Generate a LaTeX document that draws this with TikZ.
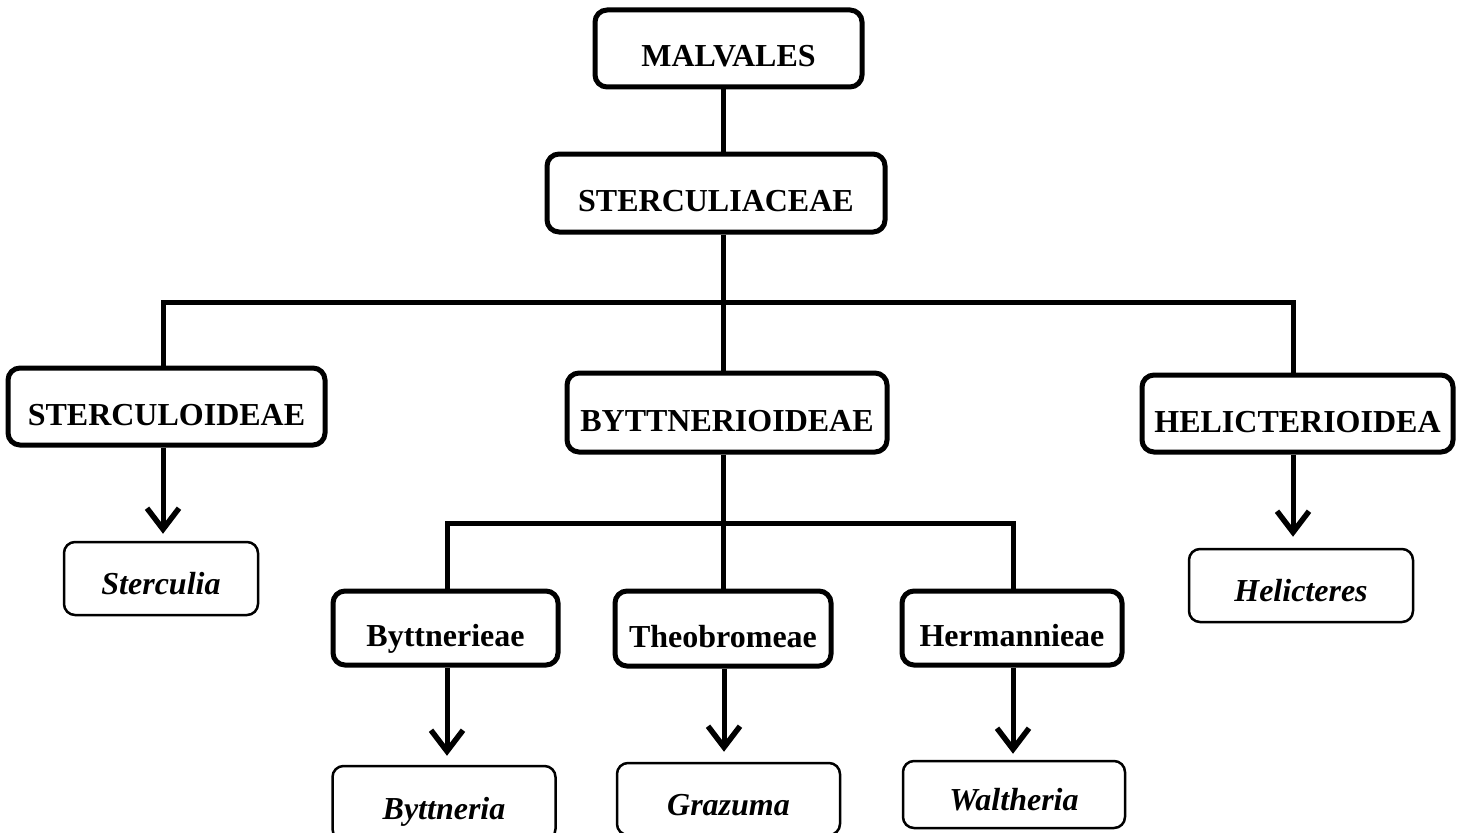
\documentclass[tikz,border=0pt]{standalone}
\usepackage{fontspec}
\setmainfont{Liberation Serif}
\usetikzlibrary{arrows.meta}
\tikzset{
  bigbox/.style={draw=black, line width=5pt, rounded corners=12pt, fill=white,
    font=\fontsize{32}{38}\selectfont\bfseries, text height=37pt, text depth=0pt,
    inner sep=0pt, anchor=center},
  smallbox/.style={draw=black, line width=2.5pt, rounded corners=11pt, fill=white,
    font=\fontsize{32}{38}\selectfont\bfseries\itshape, text height=32pt, text depth=0pt,
    inner sep=0pt, anchor=center},
  conn/.style={line width=5pt},
  arr/.style={line width=5pt, -{Straight Barb[length=21pt,width=32pt,line width=5.5pt]}}
}
\begin{document}
\begin{tikzpicture}[x=1pt,y=-1pt]
\clip (0,0) rectangle (1463,832);
\fill[white] (0,0) rectangle (1463,832);
% level 0 and 1
\node[bigbox, minimum width=267pt, minimum height=77pt] (malv) at (728.5,48.5) {MALVALES};
\node[bigbox, minimum width=338pt, minimum height=78pt] (fam) at (716,193) {STERCULIACEAE};
% subfamilies
\node[bigbox, minimum width=317pt, minimum height=77pt] (sub1) at (166.5,406.5) {STERCULOIDEAE};
\node[bigbox, minimum width=320pt, minimum height=79pt] (sub2) at (727,412.5) {BYTTNERIOIDEAE};
\node[bigbox, minimum width=311pt, minimum height=77pt] (sub3) at (1297.5,413.5) {HELICTERIOIDEA};
% tribes
\node[bigbox, minimum width=225pt, minimum height=74pt] (tr1) at (445.5,628) {Byttnerieae};
\node[bigbox, minimum width=216pt, minimum height=75pt] (tr2) at (723,628.5) {Theobromeae};
\node[bigbox, minimum width=220pt, minimum height=74pt] (tr3) at (1012,628) {Hermannieae};
% genera
\node[smallbox, minimum width=194pt, minimum height=73pt] (g1) at (161,578.5) {Sterculia};
\node[smallbox, minimum width=224pt, minimum height=73pt] (g5) at (1301,585.5) {Helicteres};
\node[smallbox, minimum width=223pt, minimum height=74pt] (g2) at (444,803) {Byttneria};
\node[smallbox, minimum width=223pt, minimum height=72pt] (g3) at (728.5,799) {Grazuma};
\node[smallbox, minimum width=222pt, minimum height=67pt] (g4) at (1014,794.5) {Waltheria};
% junction coordinates
\coordinate (j1) at (723,302);
\coordinate (j2) at (723,523);
% connectors
\draw[conn] (malv.south -| j1) -- (fam.north -| j1);
\draw[conn] (fam.south -| j1) -- (sub2.north -| j1);
\draw[conn] ([xshift=-3.5pt]sub1.north) |- (j1) -| ([xshift=-4.5pt]sub3.north);
\draw[conn] (sub2.south -| j2) -- (tr2.north -| j2);
\draw[conn] ([xshift=1.5pt]tr1.north) |- (j2) -| ([xshift=1pt]tr3.north);
% arrows
\draw[arr] ([xshift=-3.5pt]sub1.south) -- ([xshift=2pt,yshift=7pt]g1.north);
\draw[arr] ([xshift=-4.5pt]sub3.south) -- ([xshift=-8pt,yshift=11pt]g5.north);
\draw[arr] ([xshift=1.5pt]tr1.south) -- ([xshift=3pt,yshift=9pt]g2.north);
\draw[arr] ([xshift=1pt]tr2.south) -- ([xshift=-4.5pt,yshift=10pt]g3.north);
\draw[arr] ([xshift=1pt]tr3.south) -- ([xshift=-1pt,yshift=6pt]g4.north);
\end{tikzpicture}
\end{document}
